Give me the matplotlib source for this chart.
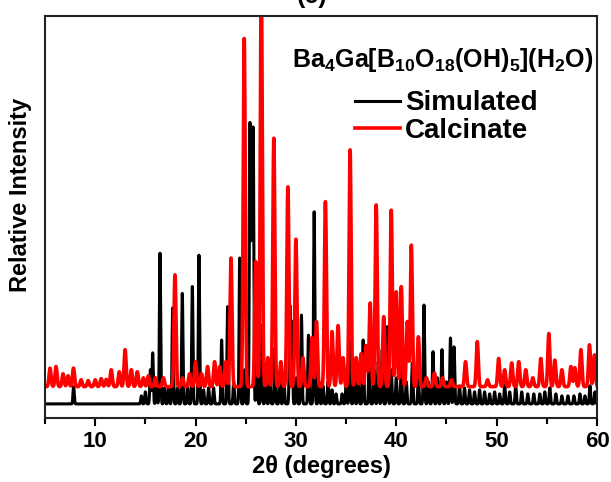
import numpy as np
import matplotlib
matplotlib.use('Agg')
import matplotlib.pyplot as plt

plt.rcParams['font.family'] = ['Liberation Sans', 'DejaVu Sans']
plt.rcParams['font.weight'] = 'bold'
plt.rcParams['mathtext.fontset'] = 'custom'
plt.rcParams['mathtext.rm'] = 'Liberation Sans:bold'
plt.rcParams['mathtext.bf'] = 'Liberation Sans:bold'
plt.rcParams['mathtext.default'] = 'bf'

# peak positions (2theta) and apex intensities
sim_base = 3.5
sim_pos = [7.85, 14.6, 15.0, 15.5, 15.73, 16.1, 16.46, 16.9, 17.3, 17.72, 18.2, 18.68,
           19.2, 19.68, 20.34, 20.8, 21.3, 21.8, 22.6, 23.2, 23.8, 24.4, 24.9, 25.42,
           25.6, 25.75, 26.1, 26.57, 27.0, 27.4, 27.9, 28.4, 28.8, 29.4, 29.6, 30.05,
           30.55, 31.25, 31.82, 32.3, 32.7, 33.2, 33.6, 34.0, 34.6, 35.0, 35.37, 35.8,
           36.2, 36.7, 37.3, 37.8, 38.2, 38.6, 39.1, 39.5, 40.0, 40.5, 41.0, 41.6,
           42.2, 42.76, 43.2, 43.66, 44.1, 44.55, 45.0, 45.4, 45.76, 46.3, 46.8, 47.3,
           47.8, 48.3, 48.8, 49.3, 49.8, 50.3, 50.8, 51.3, 51.9, 52.5, 53.1, 53.7,
           54.3, 54.8, 55.3, 55.9, 56.5, 57.1, 57.7, 58.3, 58.8, 59.3, 59.8]
sim_int = [7.8, 5.5, 6.5, 12, 16.2, 7.5, 41, 7.5, 7.5, 27.4, 7.5, 31,
           7.5, 32.7, 40.5, 7, 7.5, 7.5, 19.4, 27.7, 9, 39.8, 12, 72.9,
           60, 69.6, 20, 23, 9, 10, 17.4, 9, 10, 28, 24, 10,
           25.6, 20.6, 51.3, 9, 8, 9, 7, 6, 6, 8, 19, 9,
           12, 19.4, 14.4, 12, 14, 17, 22.7, 12, 10, 12.8, 9, 13.7,
           10, 28.1, 9, 16.5, 10, 17, 9, 19.9, 17.7, 8, 7.5, 7,
           6.5, 7, 6.5, 6, 6.5, 6, 8.2, 6.5, 8, 6.5, 6, 6,
           6, 6.5, 7.5, 6, 5.5, 5.5, 5.5, 6, 5.5, 8, 6.5]

cal_base = 7.8
cal_pos = [5.5, 6.1, 6.8, 7.3, 7.84, 8.6, 9.3, 10.0, 10.6, 11.1, 11.6, 12.4,
           12.98, 13.6, 14.2, 14.8, 15.3, 16.0, 16.8, 17.95, 18.7, 19.4, 20.0, 20.6,
           21.2, 21.9, 22.4, 23.0, 23.53, 24.85, 26.0, 26.55, 27.2, 27.8, 28.5, 29.2,
           30.0, 30.7, 31.6, 32.05, 32.94, 33.6, 34.2, 34.7, 35.4, 36.0, 36.5, 37.0,
           37.4, 38.0, 38.75, 39.5, 40.0, 40.5, 41.1, 41.5, 42.2, 43.0, 43.8, 44.6,
           45.5, 46.9, 48.07, 49.1, 50.2, 50.8, 51.5, 52.2, 52.9, 53.6, 54.4, 55.2,
           55.8, 56.5, 57.4, 57.8, 58.4, 59.25, 59.75]
cal_int = [12.4, 12.8, 11, 10.5, 12.4, 9.5, 9.3, 9.5, 9.8, 9.6, 12, 11.5,
           17, 12, 11.5, 10, 10.5, 10, 10, 35.6, 10, 11, 14, 11,
           12.8, 14, 12.8, 14, 39.8, 94.4, 38.9, 110, 15, 69.6, 14, 57.5,
           44.5, 15, 20, 24, 53.8, 21.5, 23, 15, 66.7, 15, 16, 18,
           28.6, 53, 25.2, 51.7, 31.4, 32.7, 24, 43, 20.2, 10, 11.2, 10,
           9.5, 14, 19, 9.5, 14.8, 12, 13.7, 14, 12, 10, 14.8, 21,
           14.4, 12, 12.8, 12.5, 17, 18.2, 15.7]

tt = np.arange(5, 60.001, 0.01)


def pattern(pos, inten, base, sig):
    y = np.full_like(tt, base)
    for p, h in zip(pos, inten):
        y += (h - base) * np.exp(-0.5 * ((tt - p) / sig) ** 2)
    return y


fig = plt.figure(figsize=(6.11, 4.82), dpi=100)
ax = fig.add_axes([45 / 611, 1 - 418 / 482, 552 / 611, 402 / 482])

ax.plot(tt, pattern(sim_pos, sim_int, sim_base, 0.06), color='black', lw=2.2, label='Simulated')
ax.plot(tt, pattern(cal_pos, cal_int, cal_base, 0.1), color='red', lw=2.6, label='Calcinate')

ax.set_xlim(5, 60)
ax.set_ylim(0, 100)
ax.set_xticks([10, 20, 30, 40, 50, 60])
ax.set_xticks([5, 15, 25, 35, 45, 55], minor=True)
ax.set_yticks([])
ax.tick_params(axis='x', which='major', direction='out', length=6, width=1.5, labelsize=16)
ax.tick_params(axis='x', which='minor', direction='out', length=4, width=1.5)
for s in ax.spines.values():
    s.set_linewidth(1.5)
    s.set_color('#222222')

ax.set_xlabel('2θ (degrees)', fontsize=17, fontweight='bold', labelpad=2)
ax.set_ylabel('Relative Intensity', fontsize=17, fontweight='bold')
ax.yaxis.set_label_coords(-0.024, 0.555)

ax.text(0.993, 0.89, r'Ba$_4$Ga[B$_{10}$O$_{18}$(OH)$_5$](H$_2$O)', transform=ax.transAxes,
        ha='right', va='center', fontsize=18, fontweight='bold')

ax.legend(loc='upper left', bbox_to_anchor=(0.562, 0.815), frameon=False,
          fontsize=20, handlelength=1.6, handletextpad=0.2, labelspacing=0.05,
          borderpad=0, borderaxespad=0)

fig.text(0.51, 1 - 3 / 482, '(c)', ha='center', va='baseline', fontsize=18, fontweight='bold')

fig.savefig('out.png', dpi=100)
